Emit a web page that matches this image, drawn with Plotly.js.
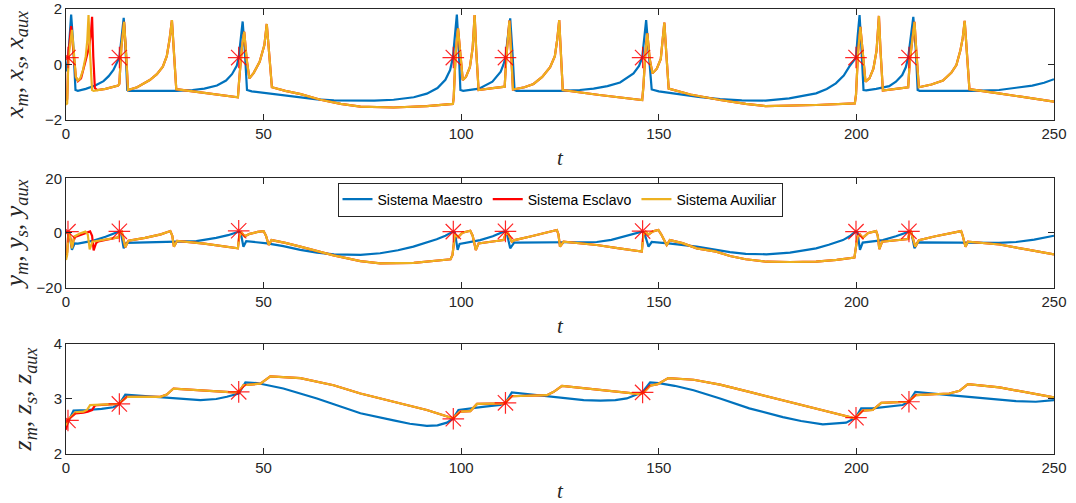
<!DOCTYPE html>
<html>
<head>
<meta charset="utf-8">
<script src="https://cdn.plot.ly/plotly-3.0.1.min.js"></script>
<style>html,body{margin:0;padding:0;background:#fff;}#chart{width:1076px;height:503px;}</style>
</head>
<body>
<div id="chart"></div>
<script>
// ---------------- data ----------------
// Master system (Sistema Maestro)
const tMx = [0,0.6,1.3,1.8,2.4,3.0,5,7.4,9.5,10.8,12,12.9,13.5,14.0,14.6,15.0,15.5,16,22,28,32,35,38.2,40.5,42,43.2,43.7,44.2,44.7,45.2,45.8,47,50.9,55,59.3,63.5,67.8,74.5,78,82.9,88,91.3,94,96,97.2,97.9,98.4,98.9,99.3,99.8,100.5,104.5,107.9,110,110.7,111.2,111.8,112.4,112.9,113.5,114,120,125,130,133.5,137,140.2,143.6,145,145.8,146.3,146.8,147.4,148.2,150,155,160,165.5,171,177,183,189.8,192.5,194.8,196.8,198.2,199.9,200.3,200.8,201.2,201.8,202.5,205,208.3,210,211.6,212.5,213.1,213.8,214.4,215.0,215.5,216,222,229,236.1,240.4,244.5,247.5,250];
const xM  = [-0.25,0.3,1.8,0.8,-0.92,-0.95,-0.88,-0.76,-0.6,-0.42,-0.2,0.1,0.25,0.9,1.68,0.8,-0.92,-0.95,-0.95,-0.95,-0.92,-0.87,-0.76,-0.58,-0.35,-0.05,0.25,0.9,1.55,0.6,-0.92,-0.97,-1.04,-1.12,-1.2,-1.26,-1.29,-1.31,-1.3,-1.27,-1.18,-1.05,-0.85,-0.55,-0.2,0.25,1.0,1.8,0.8,-0.92,-0.95,-0.87,-0.62,-0.26,0.0,0.25,1.0,1.66,0.6,-0.92,-0.95,-0.95,-0.95,-0.92,-0.87,-0.78,-0.65,-0.32,-0.05,0.25,1.0,1.6,0.5,-0.9,-0.97,-1.08,-1.17,-1.25,-1.29,-1.3,-1.22,-1.04,-0.88,-0.68,-0.4,-0.08,0.25,1.0,1.78,0.8,-0.92,-0.93,-0.88,-0.78,-0.62,-0.38,-0.1,0.25,1.0,1.72,0.6,-0.92,-0.95,-0.95,-0.95,-0.92,-0.84,-0.76,-0.66,-0.53];
const tMy = [0,0.8,1.5,2.2,3,7,10,13.3,13.9,14.6,15.3,20,27,33,38,41,43.7,44.2,44.9,45.6,50.9,55,59.3,63.5,67.8,74.5,79.5,84,87.9,91,93.8,96,97.9,98.4,99.1,99.6,104.8,108,110.7,111.5,112.4,113.4,120,127,134.3,138,141.1,143.5,145.7,146.3,147.4,148.2,153,159.6,164.5,168,172,177.2,183.2,189.8,193,196.6,198.5,199.8,200.3,200.9,201.6,206.7,210,213.3,213.9,214.7,215.5,222,230,236,240.4,245,250];
const yM  = [0.3,0.2,-6.2,-3.8,-3.9,-2.8,-1.4,0.5,0.2,-5.6,-3.6,-3.5,-3.4,-3.0,-1.8,-0.8,0.5,0.2,-5.0,-3.0,-3.8,-4.8,-6.2,-7.2,-7.8,-8.0,-7.4,-6.3,-5.0,-3.6,-2.3,-1.0,0.5,0.2,-6.2,-4.0,-2.6,-1.2,0.5,0.2,-5.6,-3.5,-3.4,-3.4,-3.3,-2.5,-1.3,-0.4,0.5,0.2,-5.0,-3.3,-3.9,-5.0,-6.2,-7.0,-7.6,-7.8,-7.2,-5.6,-4.3,-2.6,-1.0,0.5,0.2,-6.2,-3.5,-2.6,-1.2,0.5,0.2,-5.6,-3.4,-3.5,-3.6,-3.6,-3.3,-2.4,-1.0];
const tMz = [0,0.8,1.9,5.3,9,12,13.5,15,21.3,27.2,34,38,40.7,43.7,45.4,48.3,55,63.5,69,74.5,82.9,87,91.3,94,96.4,97.9,99.3,102.3,106,109.9,111.2,112.8,119.1,126.7,131,135.2,139,141.9,145.8,147.8,150,154,158.8,165.5,172.9,181.4,186,191.5,195,197.4,199.8,201.2,204.1,208,211.7,213.3,214.9,223.5,232,240.4,245.4,250];
const zM  = [2.50,2.62,2.79,2.80,2.82,2.85,2.91,3.08,3.05,3.02,2.98,3.0,3.04,3.10,3.30,3.29,3.19,3.01,2.88,2.74,2.61,2.55,2.51,2.52,2.57,2.64,2.80,2.83,2.86,2.89,2.93,3.12,3.07,3.01,2.98,2.97,2.98,3.01,3.12,3.30,3.29,3.24,3.16,3.01,2.83,2.67,2.60,2.54,2.55,2.57,2.66,2.83,2.83,2.86,2.89,2.95,3.13,3.07,3.01,2.96,2.95,2.98];

// Auxiliary system (Sistema Auxiliar)
const tAx = [0,0.3,0.6,1.5,1.9,2.5,3.0,3.6,4.3,5.0,5.4,5.7,6.0,6.6,7,10,13.2,13.5,14.0,14.7,15.2,15.7,18,21.2,23,24.5,25.5,26.2,26.8,27.3,27.9,35,43.5,43.8,44.5,45.1,45.7,46.4,47.5,49,50.2,50.8,51.4,52.1,55.5,59.4,64.4,69.5,74.5,82.9,91.3,97.9,98.1,98.6,99.2,99.7,100.4,101.2,102.2,102.9,103.4,103.8,104.4,108,111.0,111.4,112.2,112.6,113.1,116,118.3,120.5,122.5,123.7,124.3,124.8,125.2,125.7,135,145.8,146.1,146.6,147.1,147.7,148.4,149.5,150.5,151.0,151.4,151.9,152.5,158,165.5,172,177,189.8,199.6,199.9,200.4,201.0,201.6,202.3,203.3,204.3,205.1,205.7,206.1,206.7,210,213.1,213.5,214.7,215.2,215.8,219,221.9,224,225.3,226.3,226.9,227.4,227.9,228.6,236,243,250];
const xA  = [-1.45,-1.4,0.2,1.25,0.6,-0.45,-0.58,-0.5,-0.2,0.3,0.9,1.78,0.6,-0.92,-0.95,-0.88,-0.76,-0.7,0.6,1.54,0.4,-0.92,-0.82,-0.56,-0.35,-0.08,0.3,0.9,1.6,0.5,-0.89,-1.02,-1.18,-0.6,0.6,1.18,0.2,-0.5,-0.3,0.1,0.7,1.46,0.4,-0.82,-0.95,-1.07,-1.27,-1.42,-1.52,-1.55,-1.5,-1.42,-1.2,0.4,1.3,0.4,-0.56,-0.45,-0.1,0.6,1.78,0.5,-0.92,-0.85,-0.8,0.2,1.58,0.5,-0.9,-0.82,-0.7,-0.45,-0.1,0.3,0.9,1.6,0.5,-0.92,-1.1,-1.28,-0.8,0.4,1.12,0.2,-0.32,-0.15,0.2,0.8,1.51,0.4,-0.87,-1.08,-1.28,-1.42,-1.5,-1.46,-1.4,-1.1,0.4,1.36,0.4,-0.62,-0.5,-0.15,0.5,1.75,0.5,-0.94,-0.88,-0.82,0.1,1.54,0.4,-0.82,-0.72,-0.58,-0.3,-0.02,0.5,0.95,1.57,0.4,-0.89,-1.04,-1.19,-1.34];
const tAy = [0,0.3,0.6,1.0,1.5,2.1,3.5,4.9,5.5,6.0,6.7,10,13.3,13.6,14.1,15.0,15.8,20,24,26.4,26.9,27.3,28.1,35,43.5,43.8,44.4,45.2,46.5,48.5,50.0,50.6,51.3,52.0,55.5,59.3,63.5,67.7,74.5,79.5,88,94,97.3,97.8,98.4,99.2,100.3,102.3,102.9,103.7,104.4,107.5,110.7,111.2,111.8,112.8,113.5,117.5,121,124.2,124.6,125.0,125.9,134.3,140,145.7,146.1,146.7,147.4,148.5,149.9,150.6,152.0,152.8,156,159.6,164.5,168,172,177.2,183.2,189.8,195,199.5,199.9,200.3,200.9,201.6,203,205.0,205.4,205.8,206.5,210,213.1,213.4,213.8,214.9,215.8,220,224,226.5,226.9,227.6,228.2,236.2,243,250];
const yA  = [-9.9,-8,0.5,-1,-5.6,-1.3,-0.2,0.5,-0.5,-6.0,-3.2,-2.5,-1.6,0.2,0.5,-5.2,-2.8,-1.8,-0.5,0.7,-1,-5.0,-2.9,-3.9,-5.6,-1.5,0.2,-1.2,-0.3,0.4,0.7,-1.0,-4.4,-2.6,-3.6,-5.0,-6.6,-8.2,-10.3,-11.1,-10.9,-10.2,-9.6,-8,-0.4,-1.5,0.1,0.8,-1,-6.2,-3.8,-3.2,-2.6,-0.5,0.1,-3.2,-2.6,-1.3,0,1.1,-0.5,-5.0,-3.2,-4.4,-5.6,-6.8,-0.5,0.4,-0.6,0.6,1.1,-0.5,-4.4,-2.6,-3.7,-5.6,-6.8,-8.4,-9.6,-10.5,-10.6,-10.5,-9.8,-9.0,-5,-1.3,-0.6,-1.8,0,0.7,-1,-5.9,-3.2,-2.7,-2.2,0.2,0.5,-5.0,-2.6,-1.2,0,0.7,-1,-5.0,-3.2,-4.2,-6.0,-7.8];
const tAz = [0,0.6,2.4,4.4,5.3,6.1,13.3,14.5,15.4,23.9,25.5,27.2,34,42.4,43.7,44.9,49.2,51.7,59.3,67.7,74.5,82.9,91.3,97.9,99.7,102.3,104,111,112.8,121.7,123.4,125.5,135,145.3,146.2,147.8,149.7,152.4,158.8,165.5,172.9,181.4,189.8,199.6,201.6,204.1,206.3,213.1,215,223.5,226.1,228.2,236.2,250];
const zA  = [2.52,2.63,2.76,2.77,2.80,2.89,2.91,2.98,3.04,3.04,3.08,3.19,3.16,3.12,3.13,3.25,3.28,3.41,3.38,3.25,3.10,2.95,2.80,2.65,2.77,2.78,2.91,2.92,3.05,3.07,3.13,3.24,3.17,3.09,3.12,3.24,3.27,3.38,3.35,3.26,3.13,2.98,2.83,2.65,2.79,2.80,2.93,2.95,3.07,3.10,3.15,3.27,3.21,3.03];

// Slave system (Sistema Esclavo): differs from the auxiliary one only at the start
const tSx = [0,0.3,0.6,1.3,1.8,2.5,3.0,3.8,4.8,5.8,6.3,6.6,6.9,7.3,7.9];
const xS  = [-1.3,-1.25,0.3,1.38,0.6,-0.45,-0.6,-0.5,0.05,0.6,1.1,1.72,0.3,-0.85,-0.92];
const tSy = [0,0.3,0.6,1.0,1.5,2.1,3.5,5.0,6.1,6.6,7.0,7.6,8.2];
const yS  = [-8.7,-7,0.5,-1,-5.3,-1.5,-0.8,0,0.6,-1,-6.4,-3.7,-3.1];
const tSz = [0,0.6,2.4,4.4,5.5,6.6,7.3,8.0];
const zS  = [2.44,2.63,2.74,2.75,2.77,2.80,2.88,2.89];

// Synchronisation instants (red stars)
const tStar = [0.5,13.5,43.7,98.0,111.2,145.9,199.9,213.3];
const xStar = [0.25,0.25,0.25,0.25,0.25,0.25,0.25,0.25];
const yStar = [0.5,0.6,0.8,0.5,0.6,0.7,0.5,0.6];
const zStar = [2.61,2.91,3.13,2.64,2.93,3.12,2.66,2.95];

const xTicks = [0,50,100,150,200,250];
const names = ['Sistema Maestro','Sistema Esclavo','Sistema Auxiliar'];
const yTitles = ['<i>x<sub>m</sub></i>, <i>x<sub>s</sub></i>, <i>x<sub>aux</sub></i>',
                 '<i>y<sub>m</sub></i>, <i>y<sub>s</sub></i>, <i>y<sub>aux</sub></i>',
                 '<i>z<sub>m</sub></i>, <i>z<sub>s</sub></i>, <i>z<sub>aux</sub></i>'];

// ---------------- build traces ----------------
function joinSlave(ts, vs, ta, va) {
  const last = ts[ts.length - 1];
  const t = ts.slice(), v = vs.slice();
  for (let i = 0; i < ta.length; i++) if (ta[i] > last) { t.push(ta[i]); v.push(va[i]); }
  return [t, v];
}
const C = {m:'#0072BD', s:'#FF0000', a:'#EDB120'};
const LW = 2.2;
const traces = [];
const sets = [
  {ax:'', m:[tMx,xM], s:joinSlave(tSx,xS,tAx,xA), a:[tAx,xA], st:xStar},
  {ax:'2', m:[tMy,yM], s:joinSlave(tSy,yS,tAy,yA), a:[tAy,yA], st:yStar},
  {ax:'3', m:[tMz,zM], s:joinSlave(tSz,zS,tAz,zA), a:[tAz,zA], st:zStar}
];
sets.forEach((S, k) => {
  const xa = 'x' + S.ax, ya = 'y' + S.ax;
  const leg = (k === 1);
  traces.push({x:S.m[0], y:S.m[1], xaxis:xa, yaxis:ya, mode:'lines', name:names[0], legendgroup:'m', showlegend:leg, line:{color:C.m, width:LW}});
  traces.push({x:S.s[0], y:S.s[1], xaxis:xa, yaxis:ya, mode:'lines', name:names[1], legendgroup:'s', showlegend:leg, line:{color:C.s, width:LW}});
  traces.push({x:S.a[0], y:S.a[1], xaxis:xa, yaxis:ya, mode:'lines', name:names[2], legendgroup:'a', showlegend:leg, line:{color:C.a, width:LW}});
  traces.push({x:tStar, y:S.st, xaxis:xa, yaxis:ya, mode:'markers', showlegend:false, hoverinfo:'skip',
    marker:{symbol:'asterisk-open', size:18, color:'rgba(255,0,0,0.85)', line:{color:'rgba(255,0,0,0.85)', width:1.2}}});
});

const tickFont = {family:'Liberation Sans, Arial, sans-serif', size:15, color:'#262626'};
const titleFont = {family:'Liberation Serif, Times New Roman, serif', size:26, color:'#262626'};
function xAxis(anchor) {
  return {domain:[0,1], anchor:anchor, range:[0,250], tickmode:'array', tickvals:xTicks,
    ticks:'inside', ticklen:6, tickwidth:1, tickcolor:'#262626', showline:true, linecolor:'#262626', linewidth:1,
    mirror:'ticks', showgrid:false, zeroline:false, tickfont:tickFont,
    title:{text:'<i>t</i>', font:{family:titleFont.family, size:21, color:'#262626'}, standoff:9}};
}
function yAxis(anchor, dom, rng, tv, title) {
  return {domain:dom, anchor:anchor, range:rng, tickmode:'array', tickvals:tv,
    ticks:'inside', ticklen:6, tickwidth:1, tickcolor:'#262626', showline:true, linecolor:'#262626', linewidth:1,
    mirror:'ticks', showgrid:false, zeroline:false, tickfont:tickFont,
    title:{text:title, font:titleFont, standoff:14}};
}
const layout = {
  width:1076, height:503,
  margin:{l:66, r:22, t:9, b:49},
  paper_bgcolor:'#fff', plot_bgcolor:'#fff',
  showlegend:true,
  legend:{orientation:'h', x:0.5, xanchor:'center', y:0.61, yanchor:'top',
    bgcolor:'#fff', bordercolor:'#262626', borderwidth:1, itemwidth:30,
    font:{family:'Liberation Sans, Arial, sans-serif', size:14, color:'#000'}, tracegroupgap:0},
  xaxis: xAxis('y'),
  xaxis2: xAxis('y2'),
  xaxis3: xAxis('y3'),
  yaxis: yAxis('x', [0.7506,1], [-2,2], [-2,0,2], yTitles[0]),
  yaxis2: yAxis('x2', [0.3737,0.6196], [-20,20], [-20,0,20], yTitles[1]),
  yaxis3: yAxis('x3', [0,0.2472], [2,4], [2,3,4], yTitles[2])
};
Plotly.newPlot('chart', traces, layout, {displayModeBar:false, staticPlot:true});
</script>
</body>
</html>
